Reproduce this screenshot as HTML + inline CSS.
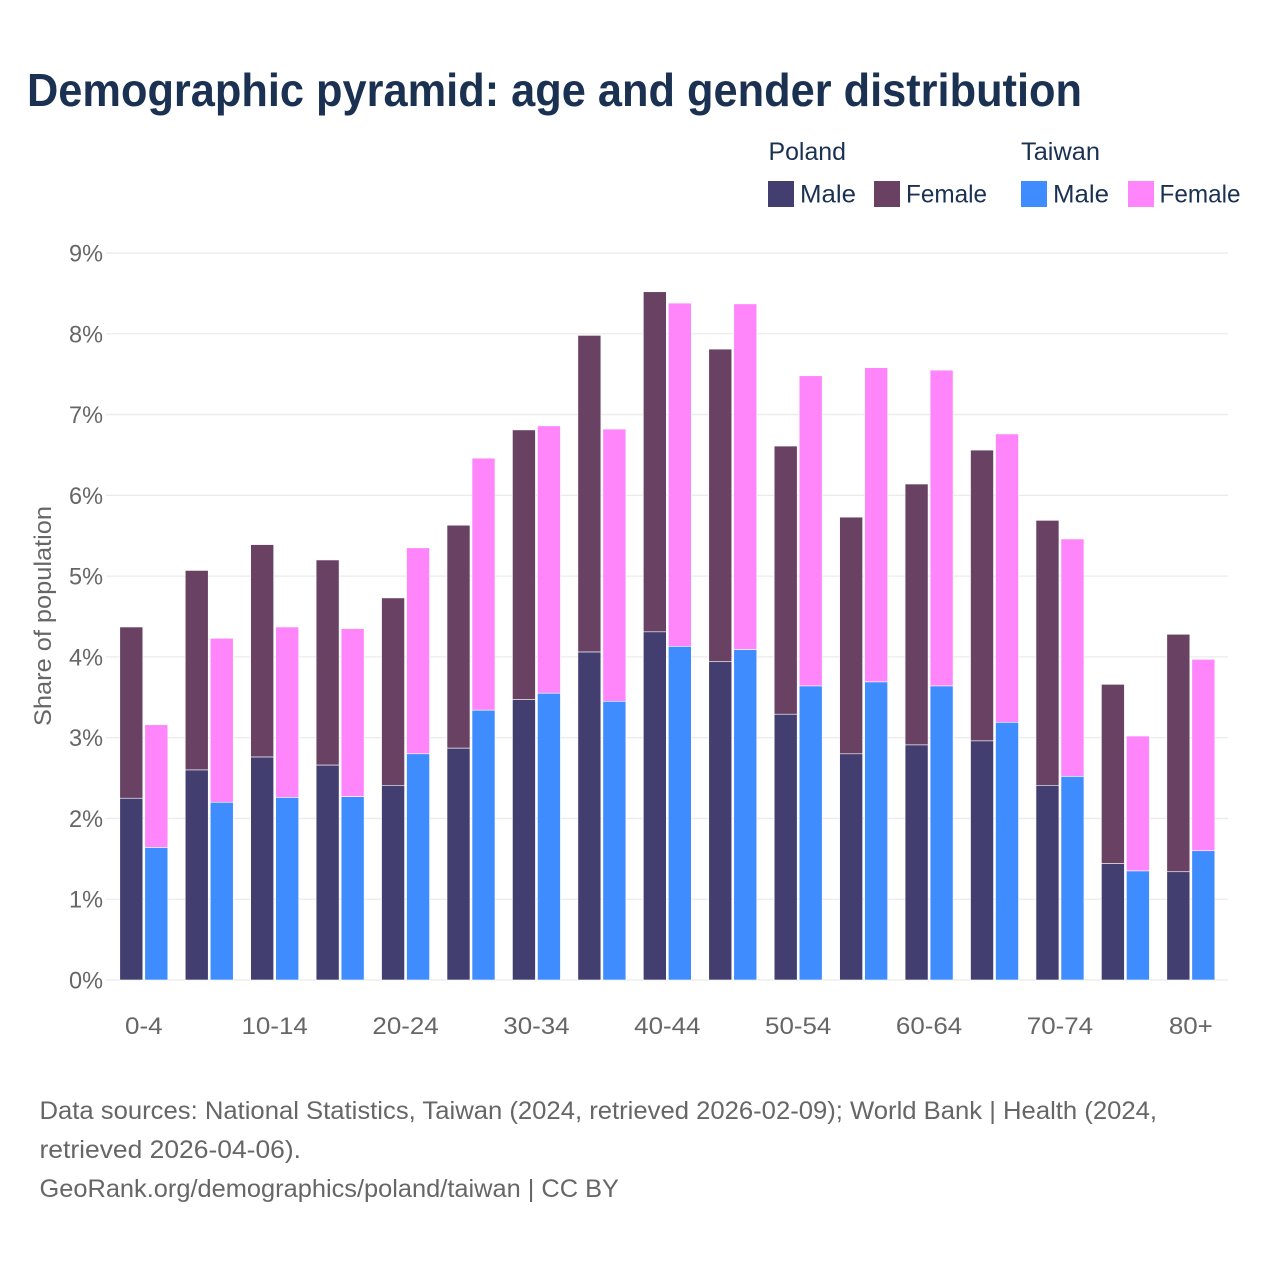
<!DOCTYPE html>
<html lang="en">
<head>
<meta charset="utf-8">
<title>Demographic pyramid: age and gender distribution</title>
<style>
html,body{margin:0;padding:0;background:#fff;width:1280px;height:1280px;overflow:hidden}
svg{display:block;font-family:"Liberation Sans",sans-serif}
</style>
</head>
<body>
<svg id="chart" width="1280" height="1280" viewBox="0 0 1280 1280" xmlns="http://www.w3.org/2000/svg">
<rect width="1280" height="1280" fill="#fff"/>
<text x="27" y="106" font-size="46" font-weight="700" fill="#1a3152" textLength="1055" lengthAdjust="spacingAndGlyphs">Demographic pyramid: age and gender distribution</text>

<g font-size="25" fill="#1a3152">
<text x="768.5" y="160" textLength="77.5" lengthAdjust="spacingAndGlyphs">Poland</text>
<text x="1021" y="160" textLength="79" lengthAdjust="spacingAndGlyphs">Taiwan</text>
<rect x="768" y="181" width="26" height="26" fill="#423f70"/>
<text x="800" y="202.5" textLength="56" lengthAdjust="spacingAndGlyphs">Male</text>
<rect x="874" y="181" width="26" height="26" fill="#694263"/>
<text x="906" y="202.5" textLength="81" lengthAdjust="spacingAndGlyphs">Female</text>
<rect x="1021" y="181" width="26" height="26" fill="#3f8cff"/>
<text x="1053" y="202.5" textLength="56" lengthAdjust="spacingAndGlyphs">Male</text>
<rect x="1128" y="181" width="26" height="26" fill="#ff85fb"/>
<text x="1159.5" y="202.5" textLength="81" lengthAdjust="spacingAndGlyphs">Female</text>
</g>

<g id="grid"></g>
<g id="yticks"></g>
<g id="bars"></g>
<g id="xticks"></g>

<text transform="translate(51,726) rotate(-90)" font-size="24" fill="#666666" textLength="220" lengthAdjust="spacingAndGlyphs">Share of population</text>

<g font-size="25" fill="#666666">
<text x="39.5" y="1119" textLength="1117.5" lengthAdjust="spacingAndGlyphs">Data sources: National Statistics, Taiwan (2024, retrieved 2026-02-09); World Bank | Health (2024,</text>
<text x="39.5" y="1158" textLength="261.5" lengthAdjust="spacingAndGlyphs">retrieved 2026-04-06).</text>
<text x="39.5" y="1197" textLength="579.5" lengthAdjust="spacingAndGlyphs">GeoRank.org/demographics/poland/taiwan | CC BY</text>
</g>
</svg>
<script>
const categories = ["0-4","5-9","10-14","15-19","20-24","25-29","30-34","35-39","40-44","45-49","50-54","55-59","60-64","65-69","70-74","75-79","80+"];
const xTickLabels = ["0-4","10-14","20-24","30-34","40-44","50-54","60-64","70-74","80+"];
const yTickValues = [0,1,2,3,4,5,6,7,8,9];
const polandMale = [2.25,2.60,2.76,2.66,2.41,2.87,3.47,4.06,4.31,3.94,3.29,2.80,2.91,2.96,2.41,1.44,1.34];
const polandFemale = [2.12,2.47,2.63,2.54,2.32,2.76,3.34,3.92,4.21,3.87,3.32,2.93,3.23,3.60,3.28,2.22,2.94];
const taiwanMale = [1.64,2.20,2.26,2.27,2.80,3.34,3.55,3.45,4.13,4.09,3.64,3.69,3.64,3.19,2.52,1.35,1.60];
const taiwanFemale = [1.52,2.03,2.11,2.08,2.55,3.12,3.31,3.37,4.25,4.28,3.84,3.89,3.91,3.57,2.94,1.67,2.37];

const SVGNS = "http://www.w3.org/2000/svg";
const yScale = v => 980 - v * 80.78;
const xCenter = i => 143.8 + i * 65.44;
const BAR_W = 23, GAP = 2;

function mk(tag, parent, attrs) {
  const el = document.createElementNS(SVGNS, tag);
  for (const k in attrs) el.setAttribute(k, attrs[k]);
  parent.appendChild(el);
  return el;
}

const grid = document.getElementById("grid");
const yticks = document.getElementById("yticks");
yTickValues.forEach(v => {
  const line = mk("line", grid, {x1:106, x2:1228, y1:yScale(v), y2:yScale(v), stroke:"#ebebeb", "stroke-width":1.3});
  
  
  const t = mk("text", yticks, {x:103, y:yScale(v)+8.5, "text-anchor":"end", "font-size":24, fill:"#666666"});
  t.textContent = v + "%";
  
  
  t.setAttribute("textLength", 34);
  t.setAttribute("lengthAdjust", "spacingAndGlyphs");
});

const bars = document.getElementById("bars");
function drawStack(i, x, male, female, maleColor, femaleColor, country) {
  const top = male + female;
  const f = mk("rect", bars, {x:x, y:yScale(top), width:BAR_W, height:yScale(male)-yScale(top), fill:femaleColor, stroke:"#fff", "stroke-width":0.6});
  
  
  const m = mk("rect", bars, {x:x, y:yScale(male), width:BAR_W, height:yScale(0)-yScale(male), fill:maleColor, stroke:"#fff", "stroke-width":0.6});
  
  
}
categories.forEach((c, i) => {
  const cx = xCenter(i);
  drawStack(i, cx - GAP/2 - BAR_W, polandMale[i], polandFemale[i], "#423f70", "#694263", "poland");
  drawStack(i, cx + GAP/2, taiwanMale[i], taiwanFemale[i], "#3f8cff", "#ff85fb", "taiwan");
});

const xticks = document.getElementById("xticks");
xTickLabels.forEach(label => {
  const i = categories.indexOf(label);
  const t = mk("text", xticks, {x:xCenter(i), y:1034, "text-anchor":"middle", "font-size":24, fill:"#666666"});
  t.textContent = label;
  
  
  t.setAttribute("textLength", (t.getComputedTextLength() * 1.08).toFixed(1));
  t.setAttribute("lengthAdjust", "spacingAndGlyphs");
});
</script>
</body>
</html>
